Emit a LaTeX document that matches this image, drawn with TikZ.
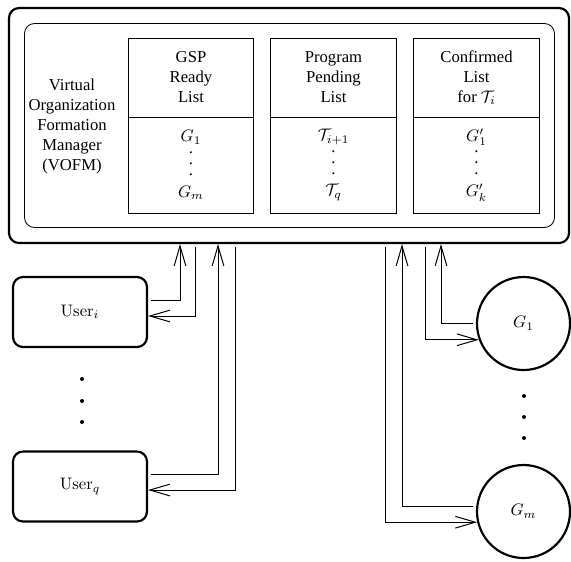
\documentclass[tikz,border=0pt]{standalone}
\usepackage[no-math]{fontspec}
\setmainfont{Liberation Serif}
\usetikzlibrary{arrows.meta}
\newcommand{\lstdots}{.\\[-5.4pt].\\[-5.4pt].}

\begin{document}
\begin{tikzpicture}[x=0.6pt, y=-0.6pt,
  flow/.style={line width=0.6pt, shorten <=2pt, -{Straight Barb[length=12pt,width=7pt]}},
  userbox/.style={draw, rounded corners=6pt, line width=1.3pt, minimum width=80.4pt, minimum height=42pt},
  gspnode/.style={draw, circle, line width=1.3pt, inner sep=0pt, minimum size=55.8pt},
  listhead/.style={draw, line width=0.5pt, align=center, minimum width=75.2pt, minimum height=47.4pt},
  listbody/.style={draw, line width=0.5pt, align=center, minimum width=75.2pt, minimum height=57.6pt}]
\useasboundingbox (0,0) rectangle (571,561);

% manager
\node[draw, rounded corners=6pt, line width=1.3pt, minimum width=336pt, minimum height=141pt] (vofm) at (289,125.5) {};
\node[draw, rounded corners=6pt, line width=0.5pt, minimum width=318pt, minimum height=122.4pt] (inner) at (289.5,125.5) {};
\node[align=center] (title) at (72,126) {Virtual\\Organization\\Formation\\Manager\\(VOFM)};

% lists
\node[listhead] (gsphead) at (191,77.5) {GSP\\Ready\\List};
\node[listbody] (gspbody) at (191,165) {$G_1$\\[-5pt]\lstdots\\[1pt]$G_m$};
\node[listhead] (penhead) at (333.5,77.5) {Program\\Pending\\List};
\node[listbody] (penbody) at (333.5,165) {$\mathcal{T}_{i+1}$\\[-5pt]\lstdots\\[1pt]$\mathcal{T}_q$};
\node[listhead] (confhead) at (476.5,77.5) {Confirmed\\List\\for $\mathcal{T}_i$};
\node[listbody] (confbody) at (476.5,165) {$G'_1$\\[-5pt]\lstdots\\[1pt]$G'_k$};

% users
\node[userbox] (ui) at (80,312) {$\mathrm{User}_i$};
\node[userbox] (uq) at (80,486.5) {$\mathrm{User}_q$};
\foreach \py in {379,401,422} \fill (82,\py) circle (1.2pt);

% providers
\node[gspnode] (g1) at (523.5,323.5) {$G_1$};
\node[gspnode] (gm) at (523.5,511.5) {$G_m$};
\foreach \py in {396,417,438} \fill (524,\py) circle (1.2pt);

% requests and replies
\draw[flow] (ui.east |- 0,300) -| (vofm.south -| 180,0);
\draw[flow] (vofm.south -| 195,0) |- (ui.east |- 0,316);
\draw[flow] (uq.east |- 0,474) -| (vofm.south -| 218,0);
\draw[flow] (vofm.south -| 235,0) |- (uq.east |- 0,490);
\draw[flow] (g1.west) -| (vofm.south -| 441,0);
\draw[flow] (vofm.south -| 425,0) |- (g1.200);
\draw[flow] (gm.174) -| (vofm.south -| 402,0);
\draw[flow] (vofm.south -| 385,0) |- (gm.193);

\end{tikzpicture}
\end{document}
